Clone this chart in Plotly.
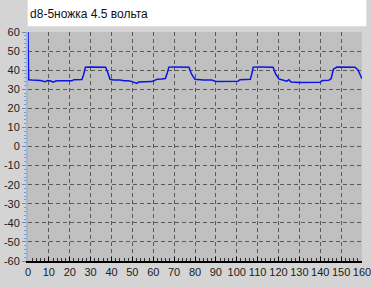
import plotly.graph_objects as go

title_text = "d8-5ножка 4.5 вольта"

x_vals = [0, 0.3, 2, 4, 6, 8.1, 9.5, 11, 12, 13, 14, 17, 21, 22, 25.8, 26.6, 27.5,
          30, 34, 37.2, 38.3, 39.3, 41, 44, 46, 48, 50, 52, 53, 56, 59, 60, 62, 64, 65.8,
          66.7, 67.5, 70, 74, 77.1, 78.3, 80, 84, 88, 90, 94, 98, 100.6, 101.5, 104, 106.5,
          107.2, 107.9, 111, 115, 117.4, 118.6, 120.2, 122, 124, 125, 126, 130, 135, 140,
          141, 144, 145.2, 146.3, 148, 152, 156.6, 158, 159, 160]
y_vals = [60, 35, 34.8, 34.7, 34.6, 34.0, 34.6, 34.3, 33.7, 34.2, 34.4, 34.4, 34.4, 35.0, 35.1, 37.5, 41.5,
          41.6, 41.6, 41.5, 38.5, 35.2, 34.9, 34.9, 34.4, 34.4, 34.0, 33.1, 33.8, 33.8, 34.0, 34.3, 35.3, 35.4, 35.6,
          38.5, 41.6, 41.7, 41.7, 41.5, 38.0, 35.2, 34.9, 34.8, 34.1, 34.0, 34.0, 34.2, 35.0, 35.0, 35.2,
          38.0, 41.6, 41.7, 41.7, 41.5, 38.0, 35.4, 34.8, 34.2, 35.0, 33.8, 33.6, 33.6, 33.7,
          34.6, 34.7, 35.5, 40.5, 41.6, 41.7, 41.5, 40.2, 37.5, 35.5]

y_ticks = list(range(-60, 61, 10))
x_ticks = list(range(0, 161, 10))

fig = go.Figure()
fig.add_trace(go.Scatter(x=x_vals, y=y_vals, mode="lines",
                         line=dict(color="#0a14e6", width=1.5), hoverinfo="skip"))

fig.add_shape(type="rect", xref="paper", yref="paper",
              x0=-0.001, x1=1.013, y0=1.025, y1=1.14,
              fillcolor="white", line=dict(width=0), layer="below")

fig.update_layout(
    width=371, height=287,
    margin=dict(l=28, r=9, t=32, b=26),
    paper_bgcolor="#d4d4d4",
    plot_bgcolor="#c0c0c0",
    showlegend=False,
    font=dict(family="Liberation Sans", size=11, color="#202020"),
    title=dict(text=title_text, x=0.081, xanchor="left", y=0.952, yanchor="middle",
               font=dict(family="Liberation Sans", size=12, color="#101010")),
)
fig.update_xaxes(range=[0, 160], tickvals=x_ticks, ticktext=[str(v) for v in x_ticks],
                 showgrid=True, gridcolor="#5a5a5a", griddash="4px,3px", gridwidth=1,
                 showline=True, linecolor="#000000", linewidth=2,
                 ticks="inside", ticklen=4, tickcolor="#000000",
                 minor=dict(dtick=2, ticks="inside", ticklen=3, tickcolor="#303030", showgrid=False),
                 zeroline=False, mirror=False, fixedrange=True, automargin=False,
                 ticklabeloverflow="allow", tickangle=0, tickfont=dict(size=11))
fig.update_yaxes(range=[-60, 60], tickvals=y_ticks, ticktext=[str(v) for v in y_ticks],
                 showgrid=True, gridcolor="#5a5a5a", griddash="4px,3px", gridwidth=1,
                 showline=True, linecolor="#9fb6d6", linewidth=2,
                 ticks="outside", ticklen=4, tickcolor="#6a88b8",
                 minor=dict(dtick=2, ticks="outside", ticklen=2, tickcolor="#7a98c8", showgrid=False),
                 zeroline=False, mirror=False, fixedrange=True, automargin=False,
                 ticklabeloverflow="allow", tickfont=dict(size=11))

fig.write_html("out.html")
